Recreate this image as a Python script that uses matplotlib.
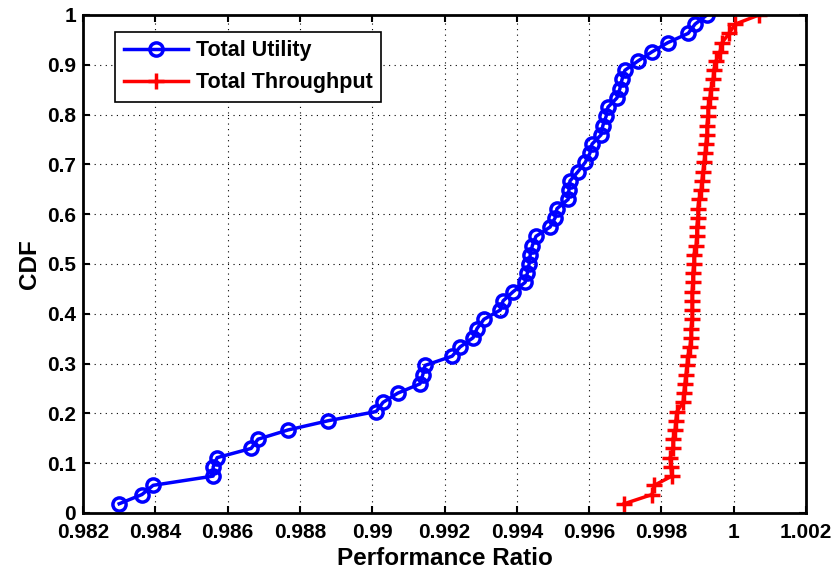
#!/usr/bin/env python
# coding: utf-8

import numpy as np
import matplotlib
matplotlib.use('Agg')
import matplotlib.pyplot as plt

# sorted performance ratios, one CDF step per sample
utility = [0.98300, 0.98363, 0.98394, 0.98560, 0.98560, 0.98571, 0.98665,
           0.98684, 0.98767, 0.98878, 0.99011, 0.99030, 0.99071, 0.99132,
           0.99140, 0.99146, 0.99221, 0.99243, 0.99279, 0.99290, 0.99309,
           0.99354, 0.99362, 0.99390, 0.99423, 0.99429, 0.99434, 0.99437,
           0.99443, 0.99453, 0.99492, 0.99506, 0.99511, 0.99542, 0.99544,
           0.99547, 0.99569, 0.99589, 0.99602, 0.99608, 0.99633, 0.99638,
           0.99647, 0.99652, 0.99677, 0.99685, 0.99691, 0.99699, 0.99735,
           0.99774, 0.99818, 0.99874, 0.99893, 0.99926]

throughput = [0.99697, 0.99774, 0.99780, 0.99829, 0.99826, 0.99824, 0.99832,
              0.99832, 0.99838, 0.99840, 0.99843, 0.99860, 0.99862, 0.99865,
              0.99868, 0.99871, 0.99873, 0.99879, 0.99882, 0.99882, 0.99885,
              0.99885, 0.99885, 0.99885, 0.99887, 0.99887, 0.99890, 0.99890,
              0.99896, 0.99898, 0.99898, 0.99901, 0.99901, 0.99904, 0.99910,
              0.99912, 0.99915, 0.99918, 0.99921, 0.99923, 0.99926, 0.99926,
              0.99929, 0.99929, 0.99934, 0.99937, 0.99943, 0.99945, 0.99951,
              0.99962, 0.99968, 0.99987, 1.00004, 1.00070]

xticks = [0.982, 0.984, 0.986, 0.988, 0.99, 0.992, 0.994, 0.996, 0.998, 1, 1.002]
xticklabels = ['0.982', '0.984', '0.986', '0.988', '0.99', '0.992', '0.994',
               '0.996', '0.998', '1', '1.002']
yticks = [0, 0.1, 0.2, 0.3, 0.4, 0.5, 0.6, 0.7, 0.8, 0.9, 1]
yticklabels = ['0', '0.1', '0.2', '0.3', '0.4', '0.5', '0.6', '0.7', '0.8', '0.9', '1']


def main():
    plt.rcParams['font.family'] = ['Liberation Sans', 'DejaVu Sans']
    plt.rcParams['font.weight'] = 'bold'

    cdf_u = np.arange(1, len(utility) + 1) / len(utility)
    cdf_t = np.arange(1, len(throughput) + 1) / len(throughput)

    fig = plt.figure(figsize=(8.37, 5.74), dpi=100)
    ax = fig.add_axes([0.0992, 0.1063, 0.8638, 0.8677])

    ax.plot(utility, cdf_u, color='#0000ff', lw=2.5, marker='o', ms=9.5,
            mfc='none', mew=2.5, label='Total Utility')
    ax.plot(throughput, cdf_t, color='#ff0000', lw=2.5, marker='+', ms=11,
            mew=2.5, label='Total Throughput')

    ax.set_xlim(0.982, 1.002)
    ax.set_ylim(0, 1)
    ax.set_xticks(xticks)
    ax.set_xticklabels(xticklabels)
    ax.set_yticks(yticks)
    ax.set_yticklabels(yticklabels)
    ax.tick_params(direction='in', labelsize=15, width=1.5, length=5,
                   top=True, right=True)
    ax.tick_params(axis='x', pad=7)
    ax.tick_params(axis='y', pad=5)
    for lab in ax.get_xticklabels() + ax.get_yticklabels():
        lab.set_fontweight('bold')
    for sp in ax.spines.values():
        sp.set_linewidth(2)

    ax.grid(True, color='black', linestyle=(0, (1, 4)), linewidth=0.8)

    ax.set_xlabel('Performance Ratio', fontsize=17.5, fontweight='bold', labelpad=4)
    ax.set_ylabel('CDF', fontsize=17.5, fontweight='bold', labelpad=4)

    leg = ax.legend(loc='upper left', bbox_to_anchor=(0.0443, 0.966),
                    borderaxespad=0, prop={'size': 15.5, 'weight': 'bold'},
                    fancybox=False, edgecolor='black', framealpha=1,
                    handlelength=3, handletextpad=0.35, borderpad=0.4,
                    labelspacing=0.5)
    leg.get_frame().set_linewidth(1.2)

    plt.savefig('out.png', dpi=100)


if __name__ == '__main__':
    main()
